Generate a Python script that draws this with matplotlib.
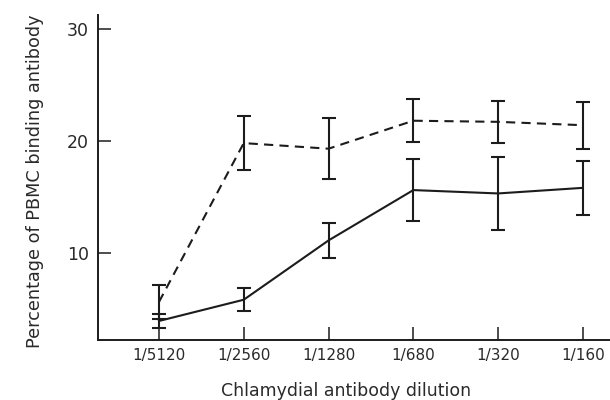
import matplotlib
matplotlib.use("Agg")
import matplotlib.pyplot as plt
import numpy as np

dilutions = ["1/5120", "1/2560", "1/1280", "1/680", "1/320", "1/160"]
dashed_mean = [5.6, 19.8, 19.3, 21.8, 21.7, 21.4]
dashed_err = [1.5, 2.4, 2.7, 1.9, 1.9, 2.1]
solid_mean = [3.9, 5.8, 11.1, 15.6, 15.3, 15.8]
solid_err = [0.65, 1.05, 1.6, 2.8, 3.3, 2.4]
yticks = [10, 20, 30]

ink = "#1c1c1c"
txt = "#2a2a2a"
plt.rcParams["font.family"] = ["DejaVu Sans"]

fig = plt.figure(figsize=(6.1, 4.0), dpi=100)
ax = fig.add_axes([97.5 / 610, 60 / 400, 512.5 / 610, 325 / 400])

x = np.arange(len(dilutions))

ax.errorbar(x, dashed_mean, yerr=dashed_err, color=ink, lw=1.5, ls=(0, (4.4, 3.0)),
            elinewidth=1.5, capsize=4.7, capthick=1.5)
ax.errorbar(x, solid_mean, yerr=solid_err, color=ink, lw=1.5, ls="-",
            elinewidth=1.5, capsize=4.7, capthick=1.5)

ax.set_xlim(-0.725, 5.32)
ax.set_ylim(2.2, 31.25)
ax.set_xticks(x)
ax.set_xticklabels(dilutions, fontsize=11, color=txt)
ax.set_yticks(yticks)
ax.set_yticklabels([str(t) for t in yticks], fontsize=12.5, color=txt)

for s in ["top", "right"]:
    ax.spines[s].set_visible(False)
for s in ["left", "bottom"]:
    ax.spines[s].set_linewidth(1.4)
    ax.spines[s].set_color(ink)

ax.tick_params(axis="both", direction="in", length=9.4, width=1.1, color=ink)
ax.tick_params(axis="y", pad=6)
ax.tick_params(axis="x", pad=6)

ax.set_xlabel("Chlamydial antibody dilution", fontsize=12.5, color=txt)
ax.xaxis.set_label_coords(0.485, -0.128)
ax.set_ylabel("Percentage of PBMC binding antibody", fontsize=12.7, color=txt)
ax.yaxis.set_label_coords(-0.104, 0.49)

fig.savefig("out.png", dpi=100, facecolor="white")
